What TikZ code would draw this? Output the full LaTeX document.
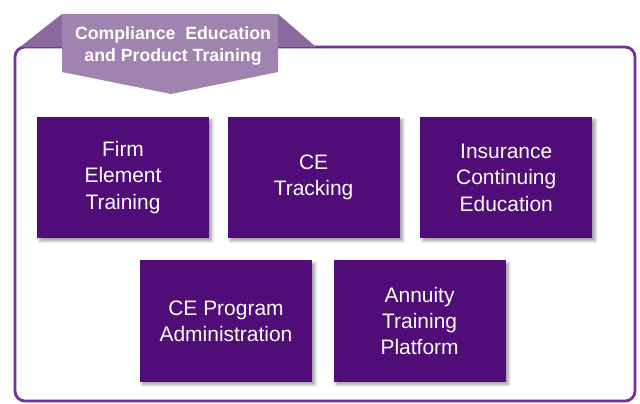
\documentclass[tikz,border=0pt]{standalone}
\usepackage{fontspec}
\setmainfont{Liberation Sans}
\usetikzlibrary{positioning, shadows.blur}
\definecolor{boxpurple}{RGB}{81,13,119}
\definecolor{framepurple}{RGB}{112,48,160}
\definecolor{tabback}{RGB}{138,106,158}
\definecolor{tabfront}{RGB}{160,131,174}
\tikzset{
x=0.025cm, y=-0.025cm, % one unit is one pixel of the sketch, counted from the top
node distance=0.5cm, % gap between two boxes. Change if necessary.
topic/.style={fill=boxpurple, text=white, minimum width=4.3cm, minimum height=3.025cm, inner sep=0pt, align=center, font=\fontsize{14.9}{18.8}\selectfont, blur shadow={shadow xshift=2pt, shadow yshift=-2pt, shadow blur steps=6}}, % the dark purple boxes
frame/.style={draw=framepurple, line width=2pt, rounded corners=7pt}, % the outline round all boxes
heading/.style={text=white, align=center, font=\fontsize{12.6}{15.8}\bfseries\selectfont}, % text on the tab
}

\begin{document}
\begin{tikzpicture}
        \useasboundingbox (0,0) rectangle (640,403);
        \draw[frame] (15,47) rectangle (635,401);

        % the tab on top
        \fill[tabback] (20,47) -- (62,14) -- (278,14) -- (316,47) -- cycle;
        \fill[tabfront] (62,14) -- (278,14) -- (278,72) -- (171,94) -- (62,72) -- cycle;
        \node[heading] (title) at (173,46) {Compliance\ \ Education\\and Product\ Training};

        \node[topic] (firm) at (123,177.5) {Firm\\Element\\Training};
        \node[topic, right=0.45cm of firm] (tracking) {CE\\Tracking};
        \node[topic, right=of tracking] (insurance) {Insurance\\Continuing\\Education};

        \node[topic] (admin) at (226,321) {CE Program\\Administration};
        \node[topic, right=0.525cm of admin] (annuity) {Annuity\\Training\\Platform};
    \end{tikzpicture}
\end{document}
